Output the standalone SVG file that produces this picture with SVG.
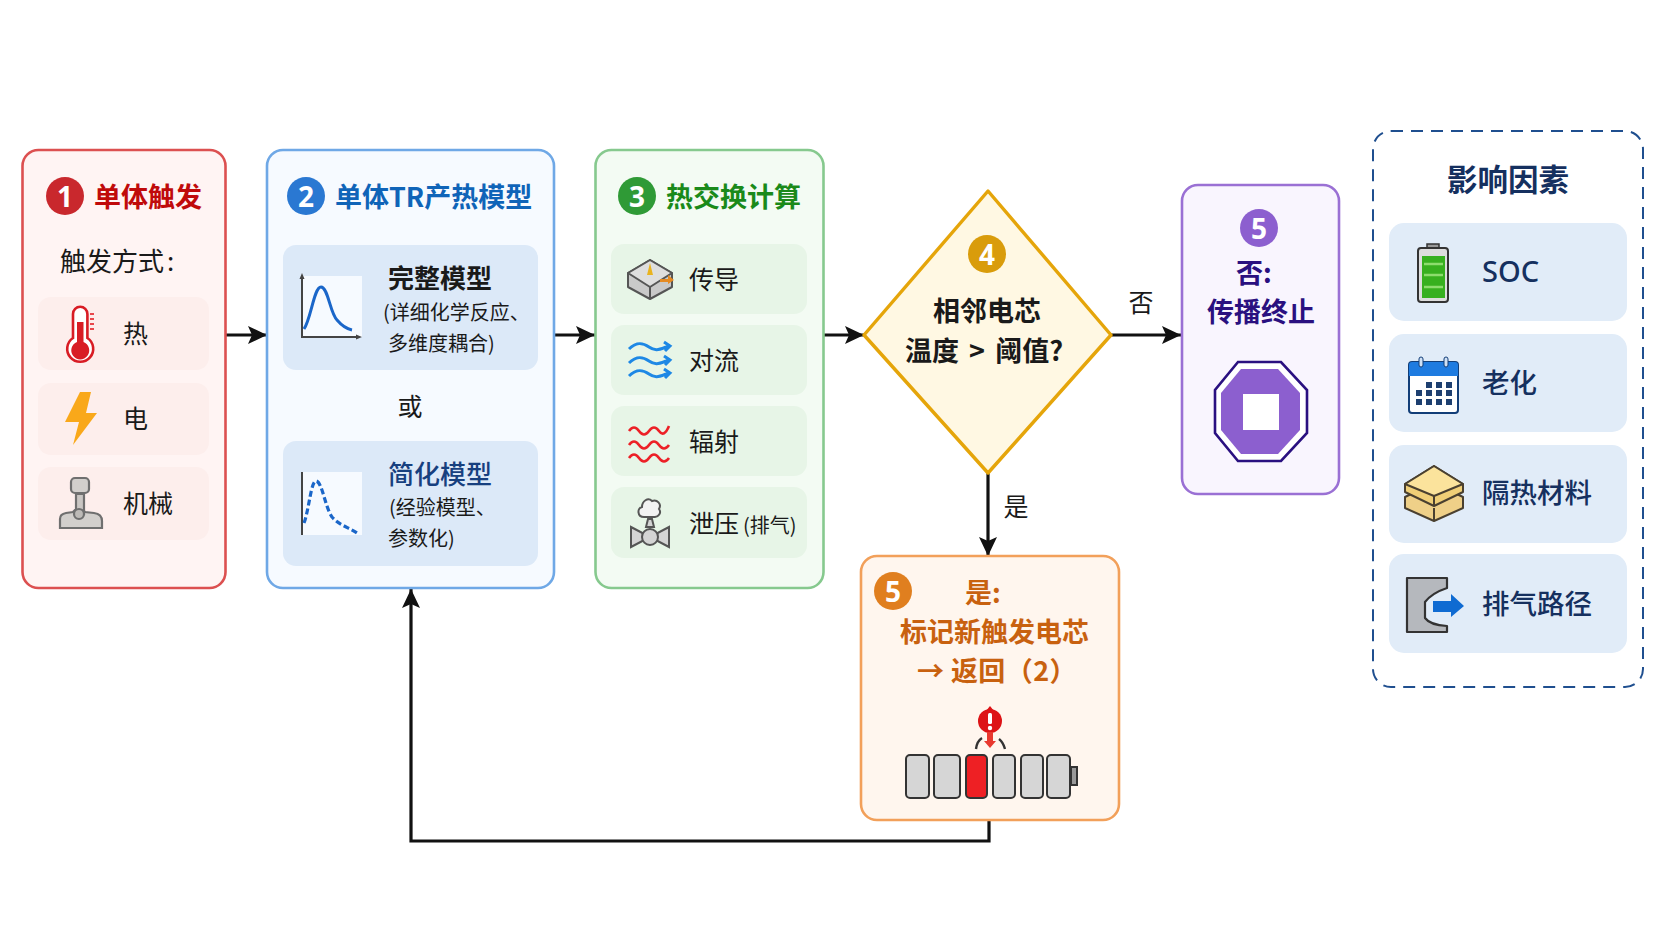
<svg xmlns="http://www.w3.org/2000/svg" width="1672" height="941" viewBox="0 0 1672 941">
<style>
text{font-family:"Noto Sans CJK SC","Noto Sans",sans-serif;dominant-baseline:central;fill:#1a1a1a}
.b{font-weight:700}
.m{font-weight:500}
.t{font-size:27px;font-weight:700}
.r{font-size:25px}
.s{font-size:20px}
.c{text-anchor:middle}
.n{font-family:"Noto Sans","Liberation Sans",sans-serif;font-size:28px;font-weight:700;fill:#fff;text-anchor:middle}
.box{stroke-width:2.600}
.conn{fill:none;stroke:#111;stroke-width:3.200}
.navy{fill:#15305f;font-weight:500;font-size:27.500px}
.bf{fill:#dce9f8}
.gf{fill:#e7f5e7}
.ff{fill:#e1ecf8}
.rf{fill:#fdeeec}
</style>
<defs>
<marker id="ah" markerUnits="userSpaceOnUse" markerWidth="24" markerHeight="24" refX="20" refY="12" orient="auto"><path d="M1 3L20 12L1 21L5 12Z" fill="#111"/></marker>
</defs>
<rect width="1672" height="941" fill="#fff"/>
<g id="connectors" class="conn">
<path d="M226 335H267" marker-end="url(#ah)"/>
<path d="M554 335H595" marker-end="url(#ah)"/>
<path d="M823 335H864" marker-end="url(#ah)"/>
<path d="M1111 335H1181" marker-end="url(#ah)"/>
<path d="M988 473V556" marker-end="url(#ah)"/>
<path d="M989 820V841H411V589" marker-end="url(#ah)"/>
</g>
<g id="edge-labels">
<text class="r c" x="1141" y="301">否</text>
<text class="r c" x="1016" y="505">是</text>
</g>

<g id="node1">
<rect class="box" x="22.500" y="150" width="203" height="438" rx="16" fill="#fff4f3" stroke="#dc5050"/>
<circle cx="65" cy="196" r="19" fill="#c9282d"/><text class="n" x="65" y="196">1</text>
<text class="t" x="94" y="195" style="fill:#c00a0a">单体触发</text>
<text x="60" y="259" font-size="26">触发方式<tspan dx="3">:</tspan></text>
<rect class="rf" x="38" y="297" width="171" height="73" rx="13"/>
<rect class="rf" x="38" y="383" width="171" height="72" rx="13"/>
<rect class="rf" x="38" y="467" width="171" height="73" rx="13"/>
<g id="thermo">
<path d="M73 338V314a7.200 7.200 0 0 1 14.400 0V338a13 13 0 1 1-14.400 0Z" fill="#fff" stroke="#d81c24" stroke-width="2.600"/>
<path d="M77 322h6.500V342a9 9 0 1 1-6.500 0Z" fill="#d81c24"/>
<path d="M90 314h4M90 319h4M90 324h4M90 329h4" stroke="#e8474c" stroke-width="2"/>
</g>
<path id="bolt" d="M80 392H91L86 413H97L73 445L79 422H65Z" fill="#f9a81a"/>
<g id="lever" fill="#d2cfcc" stroke="#6f6f6f" stroke-width="2.200">
<path d="M60 528V519Q60 514 66 513L73 512Q79 505 85 512L94 513Q102 514 102 521V528Z"/>
<path d="M76 514V494H84V514Z" fill="#c9c6c3"/>
<rect x="71" y="478" width="18" height="15" rx="4"/>
<circle cx="79" cy="514" r="5" fill="#bdbab7"/>
</g>
<text class="r" x="123" y="332">热</text>
<text class="r" x="123" y="417">电</text>
<text class="r" x="123" y="502">机械</text>
</g>

<g id="node2">
<rect class="box" x="267" y="150" width="287" height="438" rx="16" fill="#f6faff" stroke="#6fa8e6"/>
<circle cx="306" cy="196" r="19" fill="#2a78d2"/><text class="n" x="306" y="196">2</text>
<text class="t" x="335" y="195" style="fill:#0f64b8">单体TR产热模型</text>
<rect class="bf" x="283" y="245" width="255" height="125" rx="13"/>
<rect class="bf" x="283" y="441" width="255" height="125" rx="13"/>
<rect x="302" y="276" width="60" height="61" fill="#f6faff"/>
<rect x="302" y="472" width="60" height="63" fill="#f6faff"/>
<path d="M302 276V337H359" fill="none" stroke="#444" stroke-width="2"/>
<path d="M299.500 279L302 273L304.500 279ZM356 334.500L362 337L356 339.500Z" fill="#444"/>
<path d="M304 329C311 319 314 287 321 287C328 287 330 313 337 320C343 327 347 329 352 330" fill="none" stroke="#1a66c9" stroke-width="3"/>
<path d="M302 472V535" fill="none" stroke="#444" stroke-width="2"/>
<path d="M304 523C309 510 311 481 316 481C322 481 325 507 332 517C339 525 348 527 357 533" fill="none" stroke="#1a66c9" stroke-width="3.200" stroke-dasharray="6 3"/>
<text class="b" x="388" y="276" font-size="26">完整模型</text>
<text class="s" x="383" y="311">(详细化学反应、</text>
<text class="s" x="388" y="342">多维度耦合)</text>
<text class="r c" x="410" y="405">或</text>
<text class="m" x="388" y="472" font-size="26" style="fill:#17407f">简化模型</text>
<text class="s" x="389" y="506">(经验模型、</text>
<text class="s" x="388" y="537">参数化)</text>
</g>

<g id="node3">
<rect class="box" x="595.500" y="150" width="228" height="438" rx="16" fill="#f3fbf3" stroke="#86c98e"/>
<circle cx="637" cy="196" r="19" fill="#2f9a36"/><text class="n" x="637" y="196">3</text>
<text class="t" x="666" y="195" style="fill:#1a8a1a">热交换计算</text>
<rect class="gf" x="611" y="244" width="196" height="70" rx="13"/>
<rect class="gf" x="611" y="325" width="196" height="70" rx="13"/>
<rect class="gf" x="611" y="406" width="196" height="70" rx="13"/>
<rect class="gf" x="611" y="487" width="196" height="71" rx="13"/>
<g id="cond" stroke="#555" stroke-width="2" stroke-linejoin="round">
<path d="M650 260L672 273V287L650 299L628 287V273Z" fill="#c9c9c9"/>
<path d="M650 260L672 273L650 287L628 273Z" fill="#dedede"/>
<path d="M650 287V299" fill="none"/>
<path d="M650 263L653 275H647Z" fill="#e9b320" stroke="none"/>
<path d="M660 279H668V275L674 280L668 284V282H660Z" fill="#e58a22" stroke="none"/>
</g>
<g id="conv" fill="none" stroke="#1e88e5" stroke-width="3">
<path d="M629 349C636 342 642 342 649 347S660 349 669 346M664 342L670 346L665 351"/>
<path d="M629 363C636 356 642 356 649 361S660 363 669 360M664 356L670 360L665 365"/>
<path d="M629 376C636 369 642 369 649 374S660 376 669 373M664 369L670 373L665 378"/>
</g>
<g id="rad" fill="none" stroke="#ec2027" stroke-width="2.600">
<path d="M629 431q5-7 10 0t10 0t10 0t10-5"/>
<path d="M629 445q5-7 10 0t10 0t10 0t10 0"/>
<path d="M629 458q5-7 10 0t10 0t10 0t10 0"/>
</g>
<g id="valve" stroke="#555" stroke-width="2" fill="#d4d4d4">
<path d="M631 527L650 537L669 527V547L650 537L631 547Z"/>
<circle cx="650" cy="537" r="8"/>
<path d="M646 527H654L652 519H648Z"/>
<path d="M644 517C637 517 637 508 642 507C642 501 648 497 652 501C657 499 662 504 659 509C662 513 658 517 655 517Z" fill="#f2f2f2"/>
</g>
<text class="r" x="689" y="278">传导</text>
<text class="r" x="689" y="359">对流</text>
<text class="r" x="689" y="440">辐射</text>
<text class="r" x="689" y="522">泄压</text>
<text class="s" x="743" y="524">(排气)</text>
</g>

<g id="node4">
<path d="M988 191L1111 335L988 473L864 335Z" fill="#fff8e3" stroke="#e5a50a" stroke-width="3.400" stroke-linejoin="round"/>
<circle cx="987" cy="254" r="19" fill="#d99c0b"/><text class="n" x="987" y="254">4</text>
<text class="t c" x="987" y="309">相邻电芯</text>
<text class="t c" x="984" y="349" style="word-spacing:4px">温度 &gt; 阈值?</text>
</g>

<g id="node5a">
<rect class="box" x="1182" y="185" width="157" height="309" rx="16" fill="#f9f5fe" stroke="#9a70d4"/>
<circle cx="1259" cy="228" r="19" fill="#8c5fcf"/><text class="n" x="1259" y="228">5</text>
<text class="t c" x="1254" y="271" style="fill:#2a1080">否:</text>
<text class="t c" x="1261" y="310" style="fill:#2a1080">传播终止</text>
<path d="M1238 362H1281L1307 390V433L1281 461H1238L1215 433V390Z" fill="#fff" stroke="#2a1080" stroke-width="2.600"/>
<path d="M1241 369H1278L1300 393V430L1278 454H1241L1221 430V393Z" fill="#8c5fcf"/>
<rect x="1243" y="394" width="36" height="36" fill="#fff"/>
</g>

<g id="node5b">
<rect class="box" x="861" y="556" width="258" height="264" rx="16" fill="#fff6ee" stroke="#f2a05a"/>
<circle cx="893" cy="591" r="19" fill="#e07f1f"/><text class="n" x="893" y="591">5</text>
<text class="t" x="965" y="591" style="fill:#c8610f">是:</text>
<text class="t" x="900" y="630" style="fill:#c8610f">标记新触发电芯</text>
<text class="t" x="917" y="669" style="fill:#c8610f;letter-spacing:.4px">→ 返回（2）</text>
<g stroke="#333" stroke-width="2" fill="#d6d6d6">
<rect x="906" y="755" width="23" height="43" rx="4"/>
<rect x="934" y="755" width="26" height="43" rx="4"/>
<rect x="966" y="755" width="21" height="43" rx="4" fill="#ee2024"/>
<rect x="993" y="755" width="22" height="43" rx="4"/>
<rect x="1021" y="755" width="22" height="43" rx="4"/>
<rect x="1047" y="755" width="23" height="43" rx="4"/>
<rect x="1071" y="767" width="6" height="18" fill="#999"/>
</g>
<circle cx="990" cy="721" r="12" fill="#dd1316"/>
<path d="M990 706L994 711H986Z" fill="#dd1316"/>
<rect x="988" y="713" width="4" height="11" rx="1.500" fill="#fff"/>
<circle cx="990" cy="728" r="2.200" fill="#fff"/>
<path d="M987 732H993V741H996L990 748L984 741H987Z" fill="#e8392f"/>
<path d="M976 749Q977 741 982 738M1005 749Q1003 742 999 739" fill="none" stroke="#333" stroke-width="2.400"/>
</g>

<g id="factors">
<rect x="1373" y="131" width="270" height="556" rx="18" fill="#fff" stroke="#1f4f8f" stroke-width="2" stroke-dasharray="12 8"/>
<text class="c" x="1508" y="178" font-size="30.500" font-weight="700" style="fill:#15305f">影响因素</text>
<rect class="ff" x="1389" y="223" width="238" height="98" rx="15"/>
<rect class="ff" x="1389" y="334" width="238" height="98" rx="15"/>
<rect class="ff" x="1389" y="445" width="238" height="98" rx="15"/>
<rect class="ff" x="1389" y="554" width="238" height="99" rx="15"/>
<g id="f-battery">
<rect x="1427" y="244" width="12" height="6" fill="#999" stroke="#333" stroke-width="1.500"/>
<rect x="1418" y="248" width="30" height="54" rx="3" fill="#ddd" stroke="#333" stroke-width="2"/>
<rect x="1422" y="256" width="23" height="42" fill="#37b01f"/>
<path d="M1424 264H1443M1424 275H1443M1424 287H1443" stroke="#8ddc6e" stroke-width="2.500"/>
</g>
<g id="f-cal">
<rect x="1409" y="362" width="49" height="51" rx="3" fill="#fff" stroke="#123e78" stroke-width="2"/>
<path d="M1409 376V365a3 3 0 0 1 3-3H1455a3 3 0 0 1 3 3V376Z" fill="#1e7be0"/>
<rect x="1419" y="357" width="4" height="10" rx="2" fill="#cfe0f5" stroke="#123e78"/>
<rect x="1444" y="357" width="4" height="10" rx="2" fill="#cfe0f5" stroke="#123e78"/>
<g fill="#1d3f70">
<rect x="1426" y="382" width="6" height="6"/><rect x="1436" y="382" width="6" height="6"/><rect x="1446" y="382" width="6" height="6"/>
<rect x="1416" y="390" width="6" height="6"/><rect x="1426" y="390" width="6" height="6"/><rect x="1436" y="390" width="6" height="6"/><rect x="1446" y="390" width="6" height="6"/>
<rect x="1416" y="399" width="6" height="6"/><rect x="1426" y="399" width="6" height="6"/><rect x="1436" y="399" width="6" height="6"/><rect x="1446" y="399" width="6" height="6"/>
</g>
</g>
<g id="f-ins" stroke="#4a4030" stroke-width="2" stroke-linejoin="round">
<path d="M1405 497L1434 483L1463 497V508L1434 521L1405 508Z" fill="#efd088"/>
<path d="M1434 508V521" fill="none"/>
<path d="M1405 484L1434 466L1463 484V492L1434 506L1405 492Z" fill="#f0cf77"/>
<path d="M1405 484L1434 466L1463 484L1434 496Z" fill="#fbe39c"/>
<path d="M1434 496V506" fill="none"/>
</g>
<g id="f-door">
<path d="M1407 578H1447V588Q1432 593 1425 602V618Q1430 625 1447 626V632H1407Z" fill="#b5b8bd" stroke="#333" stroke-width="2.200" stroke-linejoin="round"/>
<path d="M1433 601H1451V594L1464 606L1451 617V612H1433Z" fill="#0f6bd2"/>
</g>
<text x="1482" y="270" font-size="29" font-weight="500" style="font-family:'Noto Sans',sans-serif;fill:#15305f">SOC</text>
<text class="navy" x="1482" y="381">老化</text>
<text class="navy" x="1482" y="491">隔热材料</text>
<text class="navy" x="1482" y="602">排气路径</text>
</g>
</svg>
